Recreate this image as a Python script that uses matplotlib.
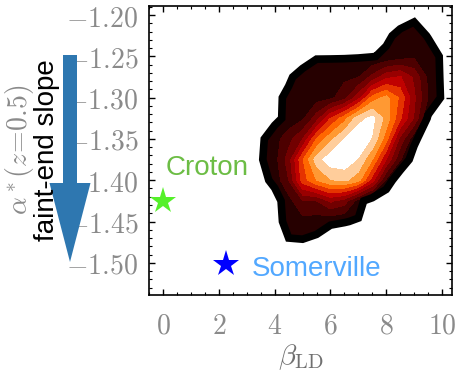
import numpy as np
import matplotlib
matplotlib.use('Agg')
import matplotlib.pyplot as plt
from matplotlib.patches import FancyArrow

plt.rcParams['mathtext.fontset'] = 'cm'

# density grid (columns = beta_LD, rows = alpha*)
beta_grid = [2.5, 3, 3.5, 4, 4.5, 5, 5.5, 6, 6.5, 7, 7.5, 8, 8.5, 9, 9.5, 10, 10.5]
alpha_grid = [-1.500, -1.475, -1.450, -1.425, -1.400, -1.375, -1.350,
              -1.325, -1.300, -1.275, -1.250, -1.225, -1.200, -1.175]
density = [
    #2.5 3   3.5   4    4.5   5    5.5   6    6.5   7    7.5   8    8.5   9    9.5   10   10.5
    [0, 0, 0.0, 0.0, 0.0, 0.0, 0.0, 0.0, 0.0, 0.0, 0.0, 0.0, 0.0, 0.0, 0.0, 0.0, 0],
    [0, 0, 0.0, 0.3, 0.9, 0.9, 0.7, 0.3, 0.1, 0.0, 0.0, 0.0, 0.0, 0.0, 0.0, 0.0, 0],
    [0, 0, 0.0, 0.5, 1.4, 1.6, 1.5, 1.15, 1.05, 0.9, 0.0, 0.0, 0.0, 0.0, 0.0, 0.0, 0],
    [0, 0, 0.0, 0.5, 1.6, 3.0, 3.0, 4.2, 3.5, 1.5, 0.2, 0.0, 0.0, 0.0, 0.0, 0.0, 0],
    [0, 0, 0.6, 1.3, 3.0, 6.5, 8.0, 8.9, 9.2, 8.4, 5.5, 1.8, 0.0, 0.0, 0.0, 0.0, 0],
    [0, 0, 0.9, 1.6, 3.5, 6.9, 9.5, 10.6, 10.7, 9.9, 8.0, 5.0, 2.1, 0.4, 0.0, 0.0, 0],
    [0, 0, 0.8, 1.6, 2.6, 4.0, 7.0, 8.7, 10.0, 10.8, 9.9, 7.4, 3.7, 1.3, 0.0, 0.0, 0],
    [0, 0, 0.0, 0.7, 1.3, 1.8, 3.5, 6.0, 7.6, 9.6, 10.3, 8.6, 6.2, 3.9, 0.8, 0.0, 0],
    [0, 0, 0.0, 0.7, 1.25, 1.4, 1.55, 1.75, 2.6, 4.6, 7.4, 8.3, 6.8, 4.2, 2.0, 0.88, 0],
    [0, 0, 0.0, 0.0, 0.8, 1.5, 1.65, 1.7, 1.8, 1.95, 3.3, 4.7, 5.1, 3.8, 1.8, 0.85, 0],
    [0, 0, 0.0, 0.0, 0.0, 0.3, 0.9, 0.9, 0.9, 0.92, 0.95, 1.15, 1.5, 1.8, 1.4, 0.9, 0],
    [0, 0, 0.0, 0.0, 0.0, 0.0, 0.0, 0.0, 0.0, 0.0, 0.3, 0.85, 1.2, 1.4, 0.95, 0.5, 0],
    [0, 0, 0.0, 0.0, 0.0, 0.0, 0.0, 0.0, 0.0, 0.0, 0.0, 0.3, 0.6, 0.8, 0.4, 0.0, 0],
    [0, 0, 0.0, 0.0, 0.0, 0.0, 0.0, 0.0, 0.0, 0.0, 0.0, 0.0, 0.0, 0.0, 0.0, 0.0, 0],
]
levels = [1, 2, 3, 4, 5, 6, 7, 8, 9, 10, 20]

# model points
model_names = ['Croton', 'Somerville']
model_beta = [0.0, 2.25]
model_alpha = [-1.425, -1.502]
star_colors = ['#55f02a', '#0000ff']
text_colors = ['#6cbd45', '#52a8ff']
text_pos = [(0.07, -1.385), (3.19, -1.508)]

xticks = [0, 2, 4, 6, 8, 10]
yticks = [-1.50, -1.45, -1.40, -1.35, -1.30, -1.25, -1.20]
ytick_labels = ['$-1.50$', '$-1.45$', '$-1.40$', '$-1.35$', '$-1.30$', '$-1.25$', '$-1.20$']

fig = plt.figure(figsize=(4.59, 3.81), dpi=100)
ax = fig.add_axes([0.3253, 0.2257, 0.6588, 0.7585])

cols = plt.get_cmap('gist_heat')(np.arange(1, 11) / 10.0)
ax.contourf(beta_grid, alpha_grid, density, levels=levels, colors=cols)
edge = ax.contour(beta_grid, alpha_grid, density, levels=[1], colors='k', linewidths=5.5)
edge.set_joinstyle('miter')

for name, b, a, sc, tc, tp in zip(model_names, model_beta, model_alpha,
                                  star_colors, text_colors, text_pos):
    ax.plot(b, a, marker='*', color=sc, markersize=20, markeredgewidth=0)
    ax.text(tp[0], tp[1], name, color=tc, fontsize=20, va='center',
            family='Liberation Sans')

ax.set_xlim(-0.5, 10.35)
ax.set_ylim(-1.539, -1.189)
ax.set_xticks(xticks)
ax.set_xticklabels(['$%d$' % v for v in xticks])
ax.set_xticks(np.arange(-0.5, 10.4, 0.5), minor=True)
ax.set_yticks(yticks)
ax.set_yticklabels(ytick_labels)
ax.set_yticks(np.arange(-1.53, -1.185, 0.01), minor=True)
ax.tick_params(which='both', direction='in', top=True, right=True,
               colors='k', labelcolor='#8a8a8a', labelsize=20)
ax.tick_params(which='major', length=4, width=1)
ax.tick_params(which='minor', length=2, width=0.8)
ax.tick_params(axis='x', pad=12)
ax.tick_params(axis='y', pad=8)
for s in ax.spines.values():
    s.set_linewidth(1.2)

ax.set_xlabel(r'$\beta_{\rm LD}$', fontsize=21, color='#707070', labelpad=2)

# y label and the arrow on the left
fig.text(0.20, 2.31, r'$\alpha^*(z\!=\!0.5)$', transform=fig.dpi_scale_trans,
         rotation=90, ha='center', va='center', fontsize=20, color='#8a8a8a')
arrow = FancyArrow(0.70, 3.26, 0, -2.07, width=0.14, head_width=0.41,
                   head_length=0.79, length_includes_head=True,
                   transform=fig.dpi_scale_trans, color='#2e77b0', lw=0, zorder=5)
fig.add_artist(arrow)
fig.text(0.47, 2.31, 'faint-end slope', transform=fig.dpi_scale_trans,
         rotation=90, ha='center', va='center', fontsize=20, color='k',
         family='Liberation Sans', zorder=6)

fig.savefig('out.png', dpi=100)
